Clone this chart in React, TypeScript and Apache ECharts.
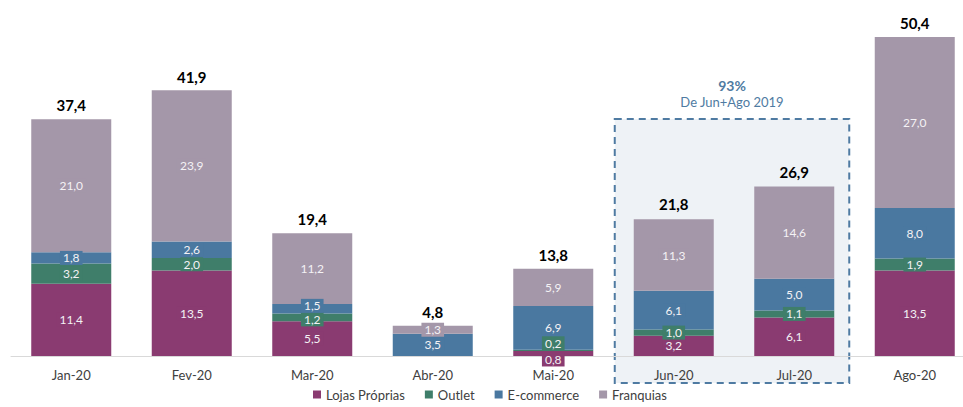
import React, { useEffect, useRef } from "react";
import * as echarts from "echarts";

const categories = ["Jan-20", "Fev-20", "Mar-20", "Abr-20", "Mai-20", "Jun-20", "Jul-20", "Ago-20"];
const lojasProprias = [11.4, 13.5, 5.5, 0, 0.8, 3.2, 6.1, 13.5];
const outlet = [3.2, 2.0, 1.2, 0, 0.2, 1.0, 1.1, 1.9];
const ecommerce = [1.8, 2.6, 1.5, 3.5, 6.9, 6.1, 5.0, 8.0];
const franquias = [21.0, 23.9, 11.2, 1.3, 5.9, 11.3, 14.6, 27.0];
const totals = [37.4, 41.9, 19.4, 4.8, 13.8, 21.8, 26.9, 50.4];
const seriesNames = ["Lojas Próprias", "Outlet", "E-commerce", "Franquias"];
const annotationTitle = "93%";
const annotationSub = "De Jun+Ago 2019";

const COLORS = ["#8A3B71", "#3F7E6A", "#4A78A0", "#A497A9"];
const FONT = "Lato";
const fmt = (v: number) => v.toFixed(1).replace(".", ",");

export default function App() {
  const ref = useRef<HTMLDivElement>(null);
  useEffect(() => {
    document.body.style.margin = "0";
    document.body.style.overflow = "hidden";
    if (!ref.current) return;
    const chart = echarts.init(ref.current, undefined, { renderer: "svg" });
    const sets = [lojasProprias, outlet, ecommerce, franquias];
    const offsets: Record<string, [number, number]> = {
      "0-4": [0, 6],
      "1-4": [0, -7],
      "1-2": [0, 2],
      "2-2": [0, -3],
    };
    const series: any[] = sets.map((arr, si) => ({
      name: seriesNames[si],
      type: "bar",
      stack: "total",
      barWidth: 80,
      itemStyle: { color: COLORS[si] },
      data: arr.map((v, i) => {
        if (!v) return { value: v, label: { show: false } };
        const off = offsets[`${si}-${i}`];
        return off ? { value: v, label: { offset: off } } : v;
      }),
      label: {
        show: true,
        position: "inside",
        color: "#F4F2F5",
        fontFamily: FONT,
        fontSize: 12,
        backgroundColor: COLORS[si],
        padding: [1, 3],
        formatter: (p: any) => fmt(p.value),
      },
    }));
    series.push({
      name: "Total",
      type: "line",
      data: totals,
      symbol: "circle",
      symbolSize: 1,
      itemStyle: { color: "rgba(0,0,0,0)" },
      lineStyle: { opacity: 0 },
      z: 5,
      label: {
        show: true,
        position: "top",
        distance: 6,
        color: "#000",
        fontFamily: FONT,
        fontWeight: "bold",
        fontSize: 15,
        formatter: (p: any) => fmt(p.value),
      },
    });
    chart.setOption({
      animation: false,
      grid: { left: 11, right: 1, top: 8, bottom: 51 },
      legend: {
        data: seriesNames,
        bottom: 1,
        left: 308,
        icon: "rect",
        itemWidth: 8,
        itemHeight: 8,
        itemGap: 20,
        textStyle: { fontFamily: FONT, fontSize: 13, color: "#404040" },
      },
      xAxis: {
        type: "category",
        data: categories,
        axisLine: { lineStyle: { color: "#D9D9D9" } },
        axisTick: { show: false },
        axisLabel: { fontFamily: FONT, fontSize: 13, color: "#404040", margin: 12 },
      },
      yAxis: { type: "value", min: 0, max: 55, show: false, splitLine: { show: false } },
      series,
    });
    const jun = chart.convertToPixel({ xAxisIndex: 0 }, "Jun-20") as number;
    const jul = chart.convertToPixel({ xAxisIndex: 0 }, "Jul-20") as number;
    const boxLeft = jun - 59;
    const boxRight = jul + 55;
    const cx = (boxLeft + boxRight) / 2;
    chart.setOption({
      graphic: [
        {
          type: "rect",
          z: 0,
          shape: { x: boxLeft, y: 119, width: boxRight - boxLeft, height: 264 },
          style: { fill: "#EEF2F6", stroke: "#4F7BA2", lineWidth: 2, lineDash: [7, 5] },
        },
        {
          type: "text",
          x: cx,
          y: 85,
          style: {
            text: annotationTitle,
            fill: "#4F7BA2",
            font: `bold 14px ${FONT}`,
            textAlign: "center",
            textVerticalAlign: "middle",
          },
        },
        {
          type: "text",
          x: cx,
          y: 102,
          style: {
            text: annotationSub,
            fill: "#4F7BA2",
            font: `13px ${FONT}`,
            textAlign: "center",
            textVerticalAlign: "middle",
          },
        },
      ],
    });
    return () => chart.dispose();
  }, []);
  return (
    <div style={{ width: 963, height: 407, overflow: "hidden" }}>
      <div ref={ref} style={{ width: 976, height: 407 }} />
    </div>
  );
}
